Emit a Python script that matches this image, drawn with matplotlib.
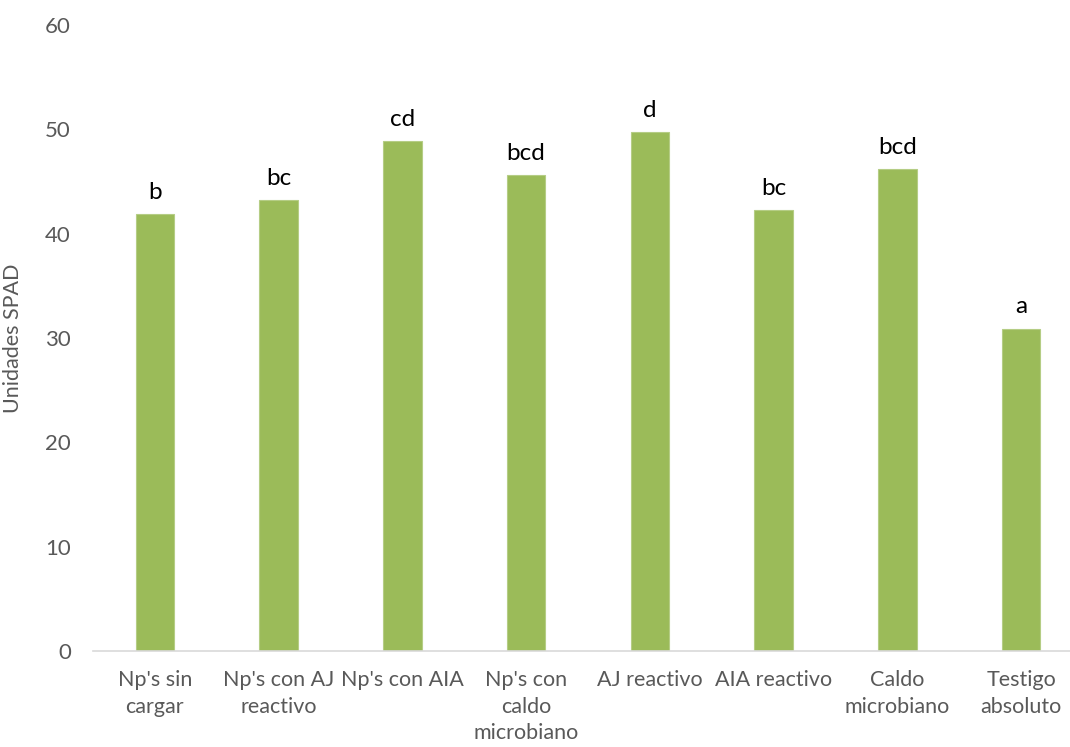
import matplotlib.pyplot as plt

categories = ["Np's sin\ncargar", "Np's con AJ\nreactivo", "Np's con AIA",
              "Np's con\ncaldo\nmicrobiano", "AJ reactivo", "AIA reactivo",
              "Caldo\nmicrobiano", "Testigo\nabsoluto"]
spad = [41.9, 43.2, 48.9, 45.6, 49.7, 42.3, 46.2, 30.9]
letters = ["b", "bc", "cd", "bcd", "d", "bc", "bcd", "a"]

plt.rcParams['font.family'] = ['Lato', 'DejaVu Sans']

fig = plt.figure(figsize=(10.7, 7.47), dpi=100)
# axis runs a little past the right edge of the canvas
ax = fig.add_axes([93 / 1070, 96 / 747, 990 / 1070, 626 / 747])

x = range(len(categories))
ax.bar(x, spad, width=0.31, color='#9BBB59', edgecolor='#B5CD85', linewidth=0.8, zorder=2)

for i, (v, t) in enumerate(zip(spad, letters)):
    ax.annotate(t, (i, v), xytext=(0, 8), textcoords='offset points',
                ha='center', va='bottom', fontsize=17.5, color='black')

ax.set_xlim(-0.5, len(categories) - 0.5)
ax.set_ylim(0, 60)
ax.set_yticks(range(0, 61, 10))
ax.set_xticks(list(x))
ax.set_xticklabels(categories, fontsize=15.5, color='#595959', linespacing=1.4)
ax.tick_params(axis='y', labelsize=16, labelcolor='#595959', length=0, pad=16)
ax.tick_params(axis='x', length=0, pad=14)

ax.set_ylabel('Unidades SPAD', fontsize=15.5, color='#595959')
ax.yaxis.set_label_coords(-0.071, 0.5)

for side in ['top', 'right', 'left']:
    ax.spines[side].set_visible(False)
ax.spines['bottom'].set_color('#D9D9D9')
ax.spines['bottom'].set_linewidth(1.2)

plt.savefig('out.png', dpi=100)
